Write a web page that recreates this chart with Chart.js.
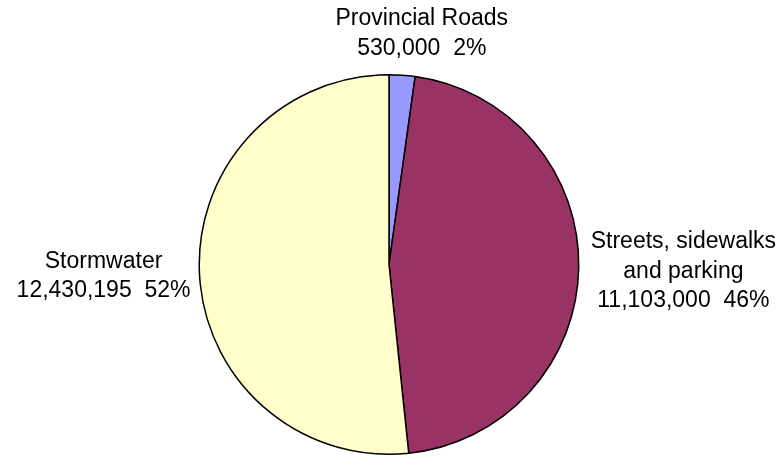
<!DOCTYPE html>
<html>
<head>
<meta charset="utf-8">
<script src="https://cdn.jsdelivr.net/npm/chart.js@4/dist/chart.umd.min.js"></script>
<style>
  html, body { margin: 0; padding: 0; background: #fff; }
  #wrap { width: 784px; height: 457px; }
</style>
</head>
<body>
<div id="wrap"><canvas id="myChart" width="784" height="457"></canvas></div>
<script>
// Capital spending by program
let programs = [["Provincial Roads"], ["Streets, sidewalks", "and parking"], ["Stormwater"]];
let amounts = [530000, 11103000, 12430195];
let colours = ['#9999FF', '#993366', '#FFFFCC'];

let total = amounts.reduce((a, b) => a + b, 0);

// writes the name, amount and share next to each slice
const outsideLabels = {
  id: 'outsideLabels',
  afterDatasetsDraw(chart) {
    let c = chart.ctx;
    let arcs = chart.getDatasetMeta(0).data;
    c.save();
    c.font = '23px "Liberation Sans", Arial, sans-serif';
    c.fillStyle = '#000';
    c.textAlign = 'center';
    c.textBaseline = 'middle';
    let lh = 29.5;
    arcs.forEach((arc, i) => {
      let lines = programs[i].concat([
        amounts[i].toLocaleString('en-US') + '  ' + Math.round(amounts[i] / total * 100) + '%'
      ]);
      let mid = (arc.startAngle + arc.endAngle) / 2;
      let r = arc.outerRadius + 10;
      let ax = arc.x + Math.cos(mid) * r;
      let ay = arc.y + Math.sin(mid) * r;
      let w = Math.max(...lines.map(l => c.measureText(l).width));
      let h = lines.length * lh;
      let cx, top;
      if (Math.abs(Math.cos(mid)) < 0.3) {
        // near the top: sit the block above the anchor
        cx = ax + 19;
        top = ay - h - 2;
      } else if (Math.cos(mid) > 0) {
        cx = ax + w / 2 + 2;
        top = ay - h / 2 + 3.5;
      } else {
        cx = ax - w / 2 + 1;
        top = ay - h / 2 + 1.5;
      }
      lines.forEach((l, k) => c.fillText(l, cx, top + lh * k + lh / 2));
    });
    c.restore();
  }
};

let ctx = document.getElementById('myChart');
let myChart = new Chart(ctx, {
  type: 'pie',
  data: {
    labels: programs.map(p => p.join(' ')),
    datasets: [{
      data: amounts,
      backgroundColor: colours,
      borderColor: '#000',
      borderWidth: 1.5
    }]
  },
  options: {
    responsive: false,
    animation: false,
    layout: { padding: { top: 74, bottom: 2, left: 2, right: 8 } },
    plugins: {
      legend: { display: false },
      tooltip: { enabled: false }
    }
  },
  plugins: [outsideLabels]
});
</script>
</body>
</html>
